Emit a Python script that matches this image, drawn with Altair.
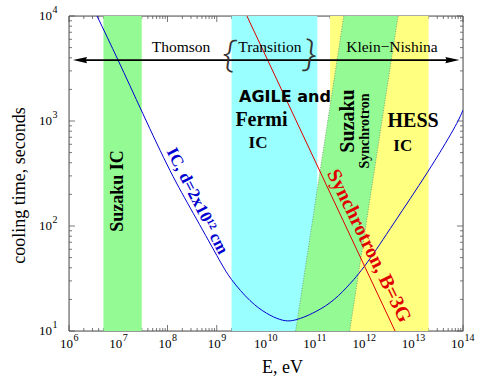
import altair as alt
import pandas as pd

W, H = 394, 315

# axis ranges
E_MIN, E_MAX = 1e6, 1e14
T_MIN, T_MAX = 10, 1e4

# decade ticks and 2..9 minor ticks
x_exp = list(range(6, 15))
y_exp = list(range(1, 5))
x_major = [10.0 ** d for d in x_exp]
x_minor = [k * 10.0 ** d for d in range(6, 14) for k in range(2, 10)]
y_major = [10.0 ** d for d in y_exp]
y_minor = [k * 10.0 ** d for d in range(1, 4) for k in range(2, 10)]

# instrument bands (eV)
band_lo = [5e6, 2e9, 2e11]
band_hi = [3e7, 1.1e11, 2e13]
band_col = ["#94fb94", "#99ffff", "#ffff80"]

# Suzaku synchrotron window: energy edges at the bottom and top of the plot
win_t = [10, 1e4]
win_lo = [4e10, 3.8e11]
win_hi = [5e11, 4.8e12]

# inverse-Compton cooling time, d = 2x10^12 cm
ic_E = [3.71e6, 9.89e6, 3.16e7, 1.12e8, 3.34e8, 1.0e9, 2.0e9, 4.73e9,
        1.02e10, 1.9e10, 3.1e10, 5.0e10, 8.9e10, 2.0e11, 4.4e11, 1.12e12,
        3.98e12, 1.86e13, 6.3e13, 1e14]
ic_t = [1e4, 3810, 1175, 339, 132, 52.5, 30.9, 19.5,
        14.8, 12.9, 12.5, 13.2, 14.8, 18.6, 26.2, 44.5,
        107, 320, 820, 1270]

# synchrotron cooling time, B = 3 G
syn_E = [4.1e9, 4.17e12]
syn_t = [1e4, 10]

# regime arrow
arrow_t = 3800
arrow_E = [1.67e6, 6.1e13]

xs = alt.Scale(type="log", domain=[E_MIN, E_MAX], nice=False)
ys = alt.Scale(type="log", domain=[T_MIN, T_MAX], nice=False)

SERIF = "Liberation Serif"
FRAME = "#555555"

# ticks pointing into the plot on all four sides
tick_layers = []
for vals, ln in [(x_major, 6), (x_minor, 3)]:
    d = pd.DataFrame({"E": vals})
    base = alt.Chart(d).mark_rule(color=FRAME, strokeWidth=0.8)
    tick_layers.append(base.encode(x=alt.X("E:Q", scale=xs),
                                   y=alt.value(H), y2=alt.value(H - ln)))
    tick_layers.append(base.encode(x=alt.X("E:Q", scale=xs),
                                   y=alt.value(0), y2=alt.value(ln)))
for vals, ln in [(y_major, 6), (y_minor, 3)]:
    d = pd.DataFrame({"t": vals})
    base = alt.Chart(d).mark_rule(color=FRAME, strokeWidth=0.8)
    tick_layers.append(base.encode(y=alt.Y("t:Q", scale=ys),
                                   x=alt.value(0), x2=alt.value(ln)))
    tick_layers.append(base.encode(y=alt.Y("t:Q", scale=ys),
                                   x=alt.value(W), x2=alt.value(W - ln)))

# plot frame
frame_h = pd.DataFrame({"a": [E_MIN, E_MIN], "b": [E_MAX, E_MAX], "t": [T_MIN, T_MAX]})
frame_v = pd.DataFrame({"E": [E_MIN, E_MAX], "a": [T_MIN, T_MIN], "b": [T_MAX, T_MAX]})
frame = [
    alt.Chart(frame_h).mark_rule(color=FRAME, strokeWidth=1).encode(
        x=alt.X("a:Q", scale=xs), x2="b:Q", y=alt.Y("t:Q", scale=ys)),
    alt.Chart(frame_v).mark_rule(color=FRAME, strokeWidth=1).encode(
        x=alt.X("E:Q", scale=xs), y=alt.Y("a:Q", scale=ys), y2="b:Q"),
]

# axes carry only the titles; decade labels are drawn as 10 + raised exponent
axes = alt.Chart(pd.DataFrame({"E": [E_MIN], "t": [T_MIN]})).mark_point(opacity=0).encode(
    x=alt.X("E:Q", scale=xs, axis=alt.Axis(
        values=x_major, labels=False, ticks=False, domain=False, grid=False,
        title="E, eV", titleFont=SERIF, titleFontSize=18, titleFontWeight="normal",
        titleColor="#000", titleX=213, titleY=41, titleBaseline="alphabetic",
        titleAlign="center")),
    y=alt.Y("t:Q", scale=ys, axis=alt.Axis(
        values=y_major, labels=False, ticks=False, domain=False, grid=False,
        title="cooling time, seconds", titleFont=SERIF, titleFontSize=18,
        titleFontWeight="normal", titleColor="#000", titleX=-50, titleY=169,
        titleAngle=270, titleBaseline="middle", titleAlign="center")),
)

xlab = pd.DataFrame({"E": x_major, "base": "10", "exp": [str(e) for e in x_exp]})
ylab = pd.DataFrame({"t": y_major, "base": "10", "exp": [str(e) for e in y_exp]})
tick_labels = []
for sub, shift in [(xlab[xlab["exp"].str.len() == 1], 4), (xlab[xlab["exp"].str.len() == 2], 1)]:
    tick_labels.append(alt.Chart(sub).mark_text(
        font=SERIF, fontSize=13, align="right", baseline="middle", dx=shift, color="#000").encode(
        x=alt.X("E:Q", scale=xs), y=alt.value(H + 12.5), text="base:N"))
    tick_labels.append(alt.Chart(sub).mark_text(
        font=SERIF, fontSize=10, align="left", baseline="middle", dx=shift + 0.5, color="#000").encode(
        x=alt.X("E:Q", scale=xs), y=alt.value(H + 6.5), text="exp:N"))
tick_labels.append(alt.Chart(ylab).mark_text(
    font=SERIF, fontSize=13, align="right", baseline="middle", color="#000").encode(
    y=alt.Y("t:Q", scale=ys), x=alt.value(-17), text="base:N"))
tick_labels.append(alt.Chart(ylab).mark_text(
    font=SERIF, fontSize=10, align="left", baseline="middle", dy=-6, color="#000").encode(
    y=alt.Y("t:Q", scale=ys), x=alt.value(-16.5), text="exp:N"))

bands_df = pd.DataFrame({"lo": band_lo, "hi": band_hi, "c": band_col,
                         "t0": [T_MIN] * 3, "t1": [T_MAX] * 3})
bands = alt.Chart(bands_df).mark_rect().encode(
    x=alt.X("lo:Q", scale=xs), x2="hi:Q",
    y=alt.Y("t0:Q", scale=ys), y2="t1:Q",
    color=alt.Color("c:N", scale=None))

win_df = pd.DataFrame({"t": win_t, "lo": win_lo, "hi": win_hi})
window = alt.Chart(win_df).mark_area(orient="horizontal", color="#94fb94", opacity=1).encode(
    y=alt.Y("t:Q", scale=ys), x=alt.X("lo:Q", scale=xs), x2="hi:Q")
win_edges = [
    alt.Chart(win_df).mark_line(color="#6a8f6a", strokeWidth=0.8, strokeDash=[1, 1.5]).encode(
        x=alt.X(f"{c}:Q", scale=xs), y=alt.Y("t:Q", scale=ys), order="t:Q")
    for c in ["lo", "hi"]
]

ic = alt.Chart(pd.DataFrame({"E": ic_E, "t": ic_t})).mark_line(
    color="#0000d0", strokeWidth=1, interpolate="natural", clip=True).encode(
    x=alt.X("E:Q", scale=xs), y=alt.Y("t:Q", scale=ys), order="E:Q")

syn = alt.Chart(pd.DataFrame({"E": syn_E, "t": syn_t})).mark_line(
    color="#e00000", strokeWidth=1, clip=True).encode(
    x=alt.X("E:Q", scale=xs), y=alt.Y("t:Q", scale=ys))

arrow_df = pd.DataFrame({"E": arrow_E, "t": [arrow_t] * 2})
arrow_line = alt.Chart(arrow_df).mark_line(color="#000", strokeWidth=1.6).encode(
    x=alt.X("E:Q", scale=xs), y=alt.Y("t:Q", scale=ys))
heads = [
    alt.Chart(arrow_df.iloc[[0]]).mark_point(
        shape="M-1,0L1,-0.45L0.85,0L1,0.45Z", size=196, filled=True, color="#000", opacity=1).encode(
        x=alt.X("E:Q", scale=xs), y=alt.Y("t:Q", scale=ys)),
    alt.Chart(arrow_df.iloc[[1]]).mark_point(
        shape="M1,0L-1,-0.45L-0.85,0L-1,0.45Z", size=196, filled=True, color="#000", opacity=1).encode(
        x=alt.X("E:Q", scale=xs), y=alt.Y("t:Q", scale=ys)),
]


def labels(rows, **mark):
    df = pd.DataFrame(rows, columns=["E", "t", "text", "size", "angle"])
    return alt.Chart(df).mark_text(align="center", baseline="middle", **mark).encode(
        x=alt.X("E:Q", scale=xs), y=alt.Y("t:Q", scale=ys), text="text:N",
        size=alt.Size("size:Q", scale=None, legend=None),
        angle=alt.Angle("angle:Q", scale=None, legend=None))


bold_serif = labels([
    (1.0e7, 215, "Suzaku  IC", 18, 270),
    (8.1e9, 1022, "Fermi", 20, 0),
    (6.9e9, 617, "IC", 17, 0),
    (4.6e11, 1000, "Suzaku", 20, 270),
    (1.02e12, 803, "Synchrotron", 14, 270),
    (9.7e12, 1000, "HESS", 20, 0),
    (6.0e12, 578, "IC", 17, 0),
], font=SERIF, fontWeight="bold", color="#000")

agile = labels([(2.43e10, 1694, "AGILE and", 16, 0)],
               font="DejaVu Sans", fontWeight="bold", color="#000")

regimes = labels([
    (1.88e8, 5070, "Thomson", 15.5, 0),
    (1.2e10, 5070, "Transition", 15.5, 0),
    (3.6e12, 5070, "Klein\u2212Nishina", 15.5, 0),
], font=SERIF, color="#000")

# thin curly brackets around the transition region
braces = labels([
    (1.8e9, 4250, "{", 38, 8),
    (7.8e10, 4250, "}", 38, 8),
], font="Open Sans", fontWeight=300, color="#333")

ic_label = labels([(4.0e8, 173, "IC, d=2x10¹² cm", 17, 63)],
                  font=SERIF, fontWeight="bold", color="#0000d0")
syn_label = labels([(1.23e12, 64.6, "Synchrotron, B=3G", 20, 64)],
                   font=SERIF, fontWeight="bold", color="#e00000")

chart = alt.layer(
    axes, *tick_layers, *frame, bands, window, *win_edges, ic, syn,
    arrow_line, *heads, *tick_labels, bold_serif, agile, regimes, braces,
    ic_label, syn_label,
).properties(
    width=W, height=H,
    autosize=alt.AutoSizeParams(type="none"),
    padding={"left": 69, "top": 16, "right": 17, "bottom": 45},
).configure_view(stroke=None).configure(background="#ffffff")

chart.save("out.html", embed_options={"renderer": "svg", "actions": False})
